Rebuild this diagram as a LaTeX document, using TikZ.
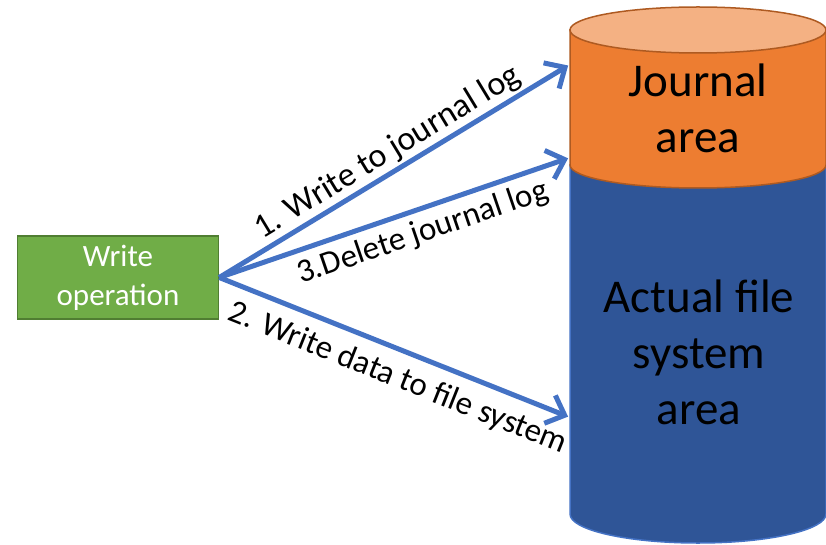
\documentclass[tikz,border=0pt]{standalone}
\usepackage{fontspec}
\setmainfont{Carlito}
\usetikzlibrary{arrows.meta}
\definecolor{opgreen}{HTML}{70AD47}
\definecolor{opgreenb}{HTML}{507E32}
\definecolor{arrblue}{HTML}{4472C4}
\definecolor{jorange}{HTML}{ED7D31}
\definecolor{jtop}{HTML}{F4B183}
\definecolor{jborder}{HTML}{AE5A21}
\definecolor{fsblue}{HTML}{2F5597}
\definecolor{fsborder}{HTML}{4472C4}
\tikzset{
  opbox/.style={draw=opgreenb, fill=opgreen, line width=1.5pt, minimum width=201pt, minimum height=83pt,
    text=white, align=center, font=\fontsize{31}{39}\selectfont, inner sep=0pt},
  arr/.style={draw=arrblue, line width=5pt, -{Straight Barb[length=16pt,width=30pt,line width=5pt]}, shorten >=1pt},
  lbl/.style={font=\fontsize{33}{40}\selectfont, sloped},
  bigtxt/.style={font=\fontsize{47}{56}\selectfont, align=center, text=black}
}
\begin{document}
\begin{tikzpicture}[x=1pt,y=-1pt]
\useasboundingbox (0,0) rectangle (826,545);
% actual file system area (blue part of cylinder)
\path[fill=fsblue, draw=fsborder, line width=1.5pt]
  (570,165) -- (570,514) .. controls (570,530) and (627.3,543) .. (698,543)
  .. controls (768.7,543) and (826,530) .. (826,514) -- (826,165) -- cycle;
% journal area (orange part)
\path[fill=jorange, draw=jborder, line width=1.5pt]
  (570,30) -- (570,165) .. controls (570,177.7) and (627.3,188) .. (698,188)
  .. controls (768.7,188) and (826,177.7) .. (826,165) -- (826,30) -- cycle;
\path[fill=jtop, draw=jborder, line width=1.5pt] (698,30) ellipse [x radius=128, y radius=23];
% texts in cylinder
\node[bigtxt] (jtxt) at (698,108) {Journal\\area};
\node[bigtxt] (fstxt) at (699,352) {Actual file\\system\\area};
% write operation box
\node[opbox] (op) at (118,277.5) {Write\\operation};
% arrow targets
\coordinate (j1) at (569,65);
\coordinate (j3) at (569,158);
\coordinate (f2) at (569,417);
\draw[arr] (op.east) -- (j1) node[lbl, font=\fontsize{34}{40}\selectfont, pos=0.51, above, inner sep=2pt] {1. Write to journal log};
\draw[arr] (op.east) -- (j3) node[lbl, pos=0.56, below, inner sep=7pt] {3.Delete journal log};
\draw[arr] (op.east) -- (f2) node[lbl, pos=0.54, below, inner sep=11pt] {2. Write data to file system};
\end{tikzpicture}
\end{document}
